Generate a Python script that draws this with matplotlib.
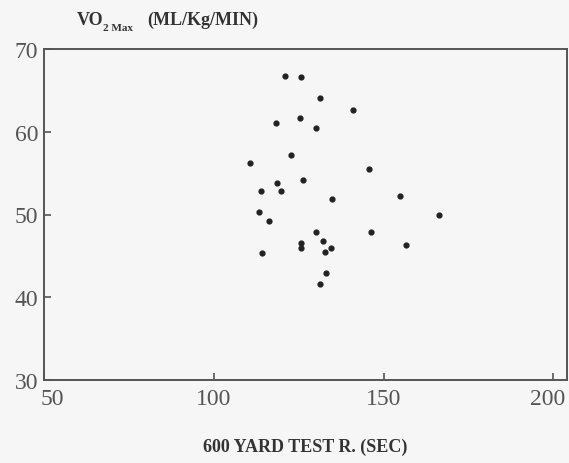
import matplotlib
matplotlib.use("Agg")
import matplotlib.pyplot as plt
from matplotlib.transforms import ScaledTranslation

# 600 yard run time (sec) vs VO2 max (ml/kg/min)
run_time = [120.9, 125.7, 131.2, 140.9, 118.4, 125.4, 130.2, 122.6, 110.8, 145.8,
            126.3, 118.5, 113.9, 119.9, 134.7, 113.4, 116.2, 130.1, 146.3, 125.6,
            132.3, 125.6, 134.5, 132.7, 114.3, 132.9, 131.4, 154.9, 166.2, 156.7]
vo2_max = [66.7, 66.6, 64.1, 62.6, 61.1, 61.7, 60.5, 57.2, 56.2, 55.5,
           54.2, 53.8, 52.8, 52.9, 51.9, 50.3, 49.2, 47.9, 47.9, 46.6,
           46.8, 45.9, 46.0, 45.5, 45.4, 42.9, 41.6, 52.2, 50.0, 46.3]

x_ticks = [50, 100, 150, 200]
y_ticks = [30, 40, 50, 60, 70]

plt.rcParams['font.family'] = ['Liberation Serif', 'DejaVu Serif']

fig = plt.figure(figsize=(5.69, 4.64), dpi=100, facecolor='#f6f6f6')
ax = fig.add_axes([44 / 569, 1 - 381 / 464, 523 / 569, 331 / 464])
ax.set_facecolor('#f6f6f6')

ax.scatter(run_time, vo2_max, s=12, color='#222222', zorder=3)

ax.set_xlim(50, 204)
ax.set_ylim(30, 70)
ax.set_xticks(x_ticks)
ax.set_yticks(y_ticks)
ax.tick_params(direction='in', length=5, width=1.2, color='#555555',
               labelcolor='#555555', labelsize=17)
ax.tick_params(axis='x', pad=6)
ax.tick_params(axis='y', pad=4)
for sp in ax.spines.values():
    sp.set_color('#555555')
    sp.set_linewidth(1.4)

# nudge the end labels like the original (50 sits right, 200 stays inside)
xl = ax.get_xticklabels()
xl[0].set_transform(xl[0].get_transform() + ScaledTranslation(6 / 72, 0, fig.dpi_scale_trans))
xl[-1].set_transform(xl[-1].get_transform() + ScaledTranslation(-4 / 72, 0, fig.dpi_scale_trans))

# axis titles
fig.text(77 / 569, 1 - 25 / 464, 'VO', fontsize=13, fontweight='bold', color='#333333')
fig.text(103 / 569, 1 - 31 / 464, '2 Max', fontsize=8, fontweight='bold', color='#333333')
fig.text(147 / 569, 1 - 25 / 464, '(ML/Kg/MIN)', fontsize=13, fontweight='bold', color='#333333')
fig.text(305 / 569, 1 - 452 / 464, '600 YARD TEST R. (SEC)', fontsize=13,
         fontweight='bold', color='#333333', ha='center')

fig.savefig('out.png', dpi=100, facecolor=fig.get_facecolor())
